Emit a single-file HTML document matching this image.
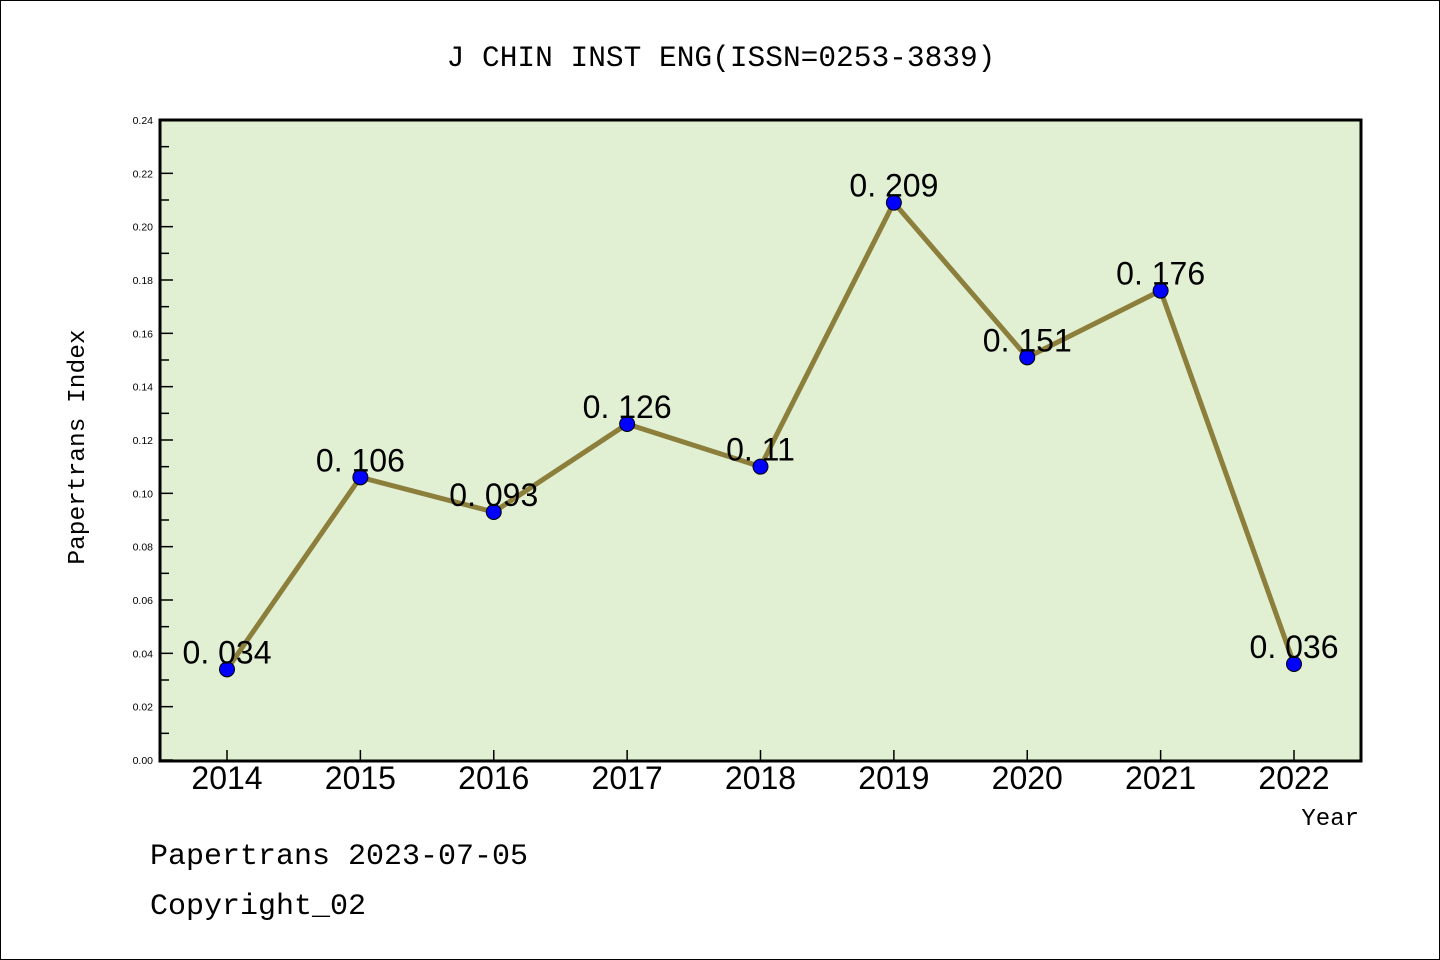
<!DOCTYPE html>
<html><head><meta charset="utf-8"><style>
body{margin:0;background:#fff}
svg{display:block}
text{font-family:"Liberation Sans",sans-serif;fill:#000}
.mono{font-family:"Liberation Mono",monospace}
</style></head><body>
<svg width="1440" height="960">
<rect x="0.5" y="0.5" width="1439" height="959" fill="#fff" stroke="#000"/>
<text class="mono" x="721" y="66" text-anchor="middle" font-size="29.5">J CHIN INST ENG(ISSN=0253-3839)</text>
<rect x="160" y="120" width="1201" height="641" fill="#e1efd3"/>
<g id="yticks"></g><g id="xticks"></g>
<g id="series"></g>
<rect x="160" y="120" width="1201" height="641" fill="none" stroke="#000" stroke-width="3"/>
<text class="mono" transform="translate(84,447) rotate(-90)" text-anchor="middle" font-size="24.5">Papertrans Index</text>
<text class="mono" x="1359" y="825" text-anchor="end" font-size="24">Year</text>
<text class="mono" x="150" y="864" font-size="30">Papertrans 2023-07-05</text>
<text class="mono" x="150" y="914" font-size="30">Copyright_02</text>
</svg>
<script>
const years=["2014","2015","2016","2017","2018","2019","2020","2021","2022"];
const values=[0.034,0.106,0.093,0.126,0.11,0.209,0.151,0.176,0.036];
const valueLabels=["0. 034","0. 106","0. 093","0. 126","0. 11","0. 209","0. 151","0. 176","0. 036"];
const yTicks=[0,0.02,0.04,0.06,0.08,0.10,0.12,0.14,0.16,0.18,0.20,0.22,0.24];
const NS="http://www.w3.org/2000/svg";
const x=i=>227+i*(1294-227)/(years.length-1);
const y=v=>760-v*(640/0.24);
function mk(t,a,p){const e=document.createElementNS(NS,t);for(const k in a)e.setAttribute(k,a[k]);p.appendChild(e);return e;}
const yt=document.getElementById('yticks');
yTicks.forEach((v,i)=>{
 const l=mk('line',{x1:160,x2:173,y1:y(v),y2:y(v),stroke:'#000','stroke-width':1.5},yt);
 
 
 const t=mk('text',{x:153,y:y(v)+4,'text-anchor':'end','font-size':10.5},yt);
 t.textContent=v.toFixed(2);
 
 
 if(i<yTicks.length-1){const m=mk('line',{x1:160,x2:169,y1:y(v+0.01),y2:y(v+0.01),stroke:'#000','stroke-width':1.5},yt);
 
 }
});
const xt=document.getElementById('xticks');
years.forEach((yr,i)=>{
 const l=mk('line',{x1:x(i),x2:x(i),y1:760,y2:750,stroke:'#000','stroke-width':1.5},xt);
 
 
 const t=mk('text',{x:x(i),y:789,'text-anchor':'middle','font-size':32},xt);
 t.textContent=yr;
 
 
});
const s=document.getElementById('series');
const pl=mk('polyline',{points:values.map((v,i)=>x(i)+','+y(v)).join(' '),fill:'none',stroke:'#8c7e3b','stroke-width':5,'stroke-linejoin':'round'},s);


values.forEach((v,i)=>{
 const c=mk('circle',{cx:x(i),cy:y(v),r:7.5,fill:'#0000ff',stroke:'#000','stroke-width':1},s);
 
 
 const t=mk('text',{x:x(i),y:y(v)-6,'text-anchor':'middle','font-size':32},s);
 t.textContent=valueLabels[i];
 
 
});
</script>
</body></html>
